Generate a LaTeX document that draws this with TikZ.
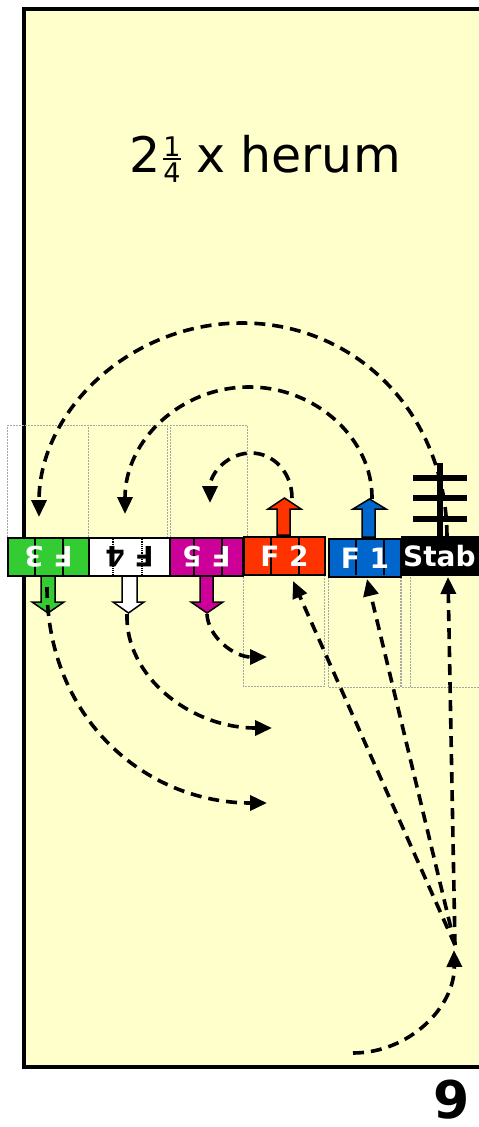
\documentclass[tikz,border=0pt]{standalone}
\usepackage{fontspec}
\setmainfont{DejaVu Sans}
\usepackage{graphicx}
\usetikzlibrary{arrows.meta}
\definecolor{bgyellow}{HTML}{FFFFCC}
\definecolor{cgreen}{HTML}{33CC33}
\definecolor{cmagenta}{HTML}{CC0099}
\definecolor{cred}{HTML}{FF3300}
\definecolor{cblue}{HTML}{0066CC}
\newcommand{\quarterfrac}{\raisebox{-10pt}{\vbox{\fontsize{27}{27}\selectfont\halign{\hfil##\hfil\cr 1\cr\noalign{\kern1.5pt\hrule height 1.6pt\kern2.5pt}4\cr}}}}
\begin{document}
\begin{tikzpicture}[x=1pt,y=-1pt,
  flowline/.style={line width=3.6pt, dash pattern=on 11pt off 7pt, -{Triangle[length=17pt,width=15pt]}},
  cell/.style={draw=black, line width=2pt, minimum height=38pt, inner sep=0pt, anchor=north west},
  celltext/.style={font=\fontsize{28}{28}\selectfont\bfseries, inner sep=0pt},
  guide/.style={draw=gray!70, line width=0.5pt, densely dotted},
  blockarrow/.style={draw=black, line width=1.5pt, line join=miter},
  divider/.style={line width=1.2pt},
  pole/.style={line width=6.5pt}
]
\clip (0,0) rectangle (479,1127);
\useasboundingbox (0,0) rectangle (479,1127);
\fill[white] (0,0) rectangle (479,1127);
% frame
\draw[fill=bgyellow, line width=4pt] (24,9) rectangle (520,1067);
% guide rectangles
\draw[guide] (7,425) rectangle (88,537);
\draw[guide] (88,425) rectangle (167,537);
\draw[guide] (170,425) rectangle (247,537);
\draw[guide] (243,575) rectangle (324,686);
\draw[guide] (328,575) rectangle (400,687);
\draw[guide] (401,575) rectangle (520,687);
\draw[guide] (410,575) rectangle (520,687);
% title
\node[font=\fontsize{49}{52}\selectfont, anchor=base, inner sep=0pt] (title) at (265,172)
  {2\kern3pt\quarterfrac{} x herum};
% bar cells
\node[cell, fill=cgreen, minimum width=81pt] (f3) at (7,537) {};
\node[cell, fill=white, minimum width=81pt] (f4) at (88,537) {};
\node[cell, fill=cmagenta, minimum width=73pt] (f5) at (169,537) {};
\node[cell, fill=cred, minimum width=81pt] (f2) at (243,536) {};
\node[cell, fill=cblue, minimum width=72pt] (f1) at (328,538) {};
\node[cell, fill=black, minimum width=120pt] (stab) at (401,536) {};
% dividers
\draw[divider] (35,537) -- (35,575);
\draw[divider] (63,537) -- (63,575);
\draw[divider, densely dotted] (113,537) -- (113,575);
\draw[divider, densely dotted] (142,537) -- (142,575);
\draw[divider] (194,537) -- (194,575);
\draw[divider] (222,537) -- (222,575);
\draw[divider] (271,536) -- (271,574);
\draw[divider] (299,536) -- (299,574);
\draw[divider] (356,538) -- (356,575);
\draw[divider] (384,538) -- (384,575);
% cell labels
\node[celltext, text=white] (f3label) at (f3.center) {\rotatebox{180}{F 3}};
\node[celltext, text=black] (f4label) at (f4.center) {\rotatebox{180}{F 4}};
\node[celltext, text=white] (f5label) at (f5.center) {\rotatebox{180}{F 5}};
\node[celltext, text=white] (f2label) at (f2.center) {F 2};
\node[celltext, text=white] (f1label) at (f1.center) {F 1};
\node[celltext, text=white, anchor=west] (stablabel) at ([xshift=2pt]stab.west) {Stab};
% block arrows
\draw[blockarrow, fill=cred] (277,535) -- (277,509) -- (268,509) -- (284.5,498) -- (301,509) -- (290,509) -- (290,535) -- cycle;
\draw[blockarrow, fill=cblue] (362,537) -- (362,509) -- (353,509) -- (369.5,499) -- (386,509) -- (375,509) -- (375,537) -- cycle;
\draw[blockarrow, fill=cgreen] (41,576) -- (41,602) -- (32,602) -- (48,613) -- (64,602) -- (55,602) -- (55,576) -- cycle;
\draw[blockarrow, fill=white] (122,576) -- (122,602) -- (113,602) -- (128.5,613) -- (144,602) -- (137,602) -- (137,576) -- cycle;
\draw[blockarrow, fill=cmagenta] (200,576) -- (200,602) -- (191,602) -- (207,613) -- (223,602) -- (213,602) -- (213,576) -- cycle;
% coordinates
\coordinate (f3tip) at (47,587);
\coordinate (f4tip) at (127,614);
\coordinate (f5tip) at (207,614);
\coordinate (f2tip) at (292,498);
\coordinate (f1tip) at (372,499);
\coordinate (stabtop) at (447,536);
\coordinate (f3in) at (39,517);
\coordinate (f4in) at (125,514);
\coordinate (f5in) at (210,503);
\coordinate (f3out) at (267,803);
\coordinate (f4out) at (272,728);
\coordinate (f5out) at (267,657);
\coordinate (f2in) at (293,581);
\coordinate (f1in) at (367,579);
\coordinate (stabin) at (448,577);
\coordinate (hub) at (455,945);
\coordinate (hubin) at (454,950);
\coordinate (start) at (353,1053);
% dashed curves above
\draw[flowline] (stabtop) .. controls (446,411) and (354,323) .. (242,323) .. controls (130,323) and (39,411) .. (f3in);
\draw[flowline] (f1tip) .. controls (373,440) and (317,387) .. (249,387) .. controls (181,387) and (125,440) .. (f4in);
\draw[flowline] (f2tip) .. controls (292,473) and (274,453) .. (251,453) .. controls (228,453) and (210,473) .. (f5in);
% dashed curves below
\draw[flowline] (f3tip) .. controls (47,718) and (145,803) .. (f3out);
\draw[flowline] (f4tip) .. controls (125,676) and (190,728) .. (f4out);
\draw[flowline] (f5tip) .. controls (208,637) and (234,657) .. (f5out);
% converging lines
\draw[flowline] (hub) -- (f2in);
\draw[flowline] (hub) -- (f1in);
\draw[flowline] (hub) -- (stabin);
\draw[flowline] (start) .. controls (409,1053) and (455,1007) .. (hubin);
% stab pole
\draw[pole] (440,463) -- (440,536);
\draw[pole] (413,478) -- (467,478);
\draw[pole] (413,498) -- (467,498);
\draw[pole] (413,519) -- (467,519);
% page number
\node[font=\fontsize{52}{52}\selectfont\bfseries, anchor=base, inner sep=0pt] (pagenum) at (452,1118) {9};
\end{tikzpicture}
\end{document}
